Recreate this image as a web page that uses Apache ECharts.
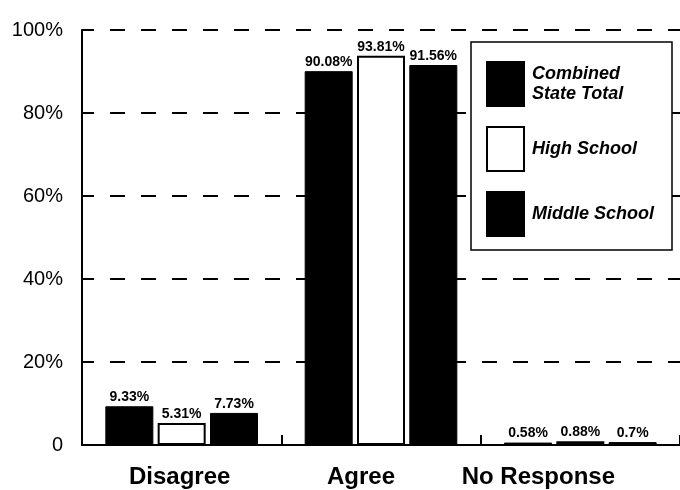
<!DOCTYPE html>
<html>
<head>
<meta charset="utf-8">
<script src="https://cdn.jsdelivr.net/npm/echarts@6/dist/echarts.min.js"></script>
<style>
  html, body { margin: 0; padding: 0; background: #fff; }
  #chart { width: 680px; height: 490px; }
</style>
</head>
<body>
<div id="chart"></div>
<script>
// Survey response shares by school level
var categories = ['Disagree', 'Agree', 'No Response'];
var combinedTotal = [9.33, 90.08, 0.58];
var highSchool = [5.31, 93.81, 0.88];
var middleSchool = [7.73, 91.56, 0.7];
var yTicks = [0, 20, 40, 60, 80, 100];

var FONT = '"Liberation Sans", Arial, Helvetica, sans-serif';

// Category captions sit a little left of their groups on the right side
var captionShift = [4, 40, 84];

var valueLabel = {
  show: true,
  position: 'top',
  distance: 2,
  color: '#000',
  fontFamily: FONT,
  fontWeight: 'bold',
  fontSize: 14,
  formatter: function (p) { return p.value + '%'; }
};

var chart = echarts.init(document.getElementById('chart'), null, { renderer: 'canvas' });
chart.setOption({
  backgroundColor: '#fff',
  animation: false,
  grid: { left: 82, right: 0, top: 30, bottom: 45, containLabel: false },
  legend: {
    orient: 'vertical',
    right: 8,
    top: 42,
    padding: [19, 18, 13, 15],
    itemWidth: 37,
    itemHeight: 44,
    itemGap: 19,
    backgroundColor: '#fff',
    borderColor: '#000',
    borderWidth: 1.5,
    borderRadius: 0,
    icon: 'rect',
    data: [
      { name: 'Combined\nState Total' },
      { name: 'High School' },
      { name: 'Middle School' }
    ],
    textStyle: {
      color: '#000',
      fontFamily: FONT,
      fontWeight: 'bold',
      fontStyle: 'italic',
      fontSize: 18,
      lineHeight: 20,
      padding: [0, 0, 0, 3]
    }
  },
  xAxis: {
    type: 'category',
    data: categories.map(function (c, i) {
      return { value: c, textStyle: { padding: [0, captionShift[i], 0, 0] } };
    }),
    boundaryGap: true,
    axisLine: { show: true, lineStyle: { color: '#000', width: 2 } },
    axisTick: { show: true, inside: true, length: 10, lineStyle: { color: '#000', width: 2 } },
    axisLabel: {
      interval: 0,
      hideOverlap: false,
      color: '#000',
      fontFamily: FONT,
      fontWeight: 'bold',
      fontSize: 24,
      margin: 20
    },
    splitLine: { show: false }
  },
  yAxis: {
    type: 'value',
    min: yTicks[0],
    max: yTicks[yTicks.length - 1],
    interval: 20,
    axisLine: { show: true, lineStyle: { color: '#000', width: 2 } },
    axisTick: { show: false },
    axisLabel: {
      color: '#000',
      fontFamily: FONT,
      fontSize: 20,
      margin: 19,
      formatter: function (v) { return v === 0 ? '0' : v + '%'; }
    },
    splitLine: {
      show: true,
      lineStyle: { color: '#000', width: 2, type: [15, 16], dashOffset: 3 }
    }
  },
  series: [
    {
      name: 'Combined\nState Total',
      type: 'bar',
      data: combinedTotal,
      barWidth: 48,
      barGap: '9%',
      itemStyle: { color: '#000', borderColor: '#000', borderWidth: 1 },
      label: valueLabel
    },
    {
      name: 'High School',
      type: 'bar',
      data: highSchool,
      barWidth: 48,
      barGap: '9%',
      itemStyle: { color: '#fff', borderColor: '#000', borderWidth: 2 },
      label: valueLabel
    },
    {
      name: 'Middle School',
      type: 'bar',
      data: middleSchool,
      barWidth: 48,
      barGap: '9%',
      itemStyle: { color: '#000', borderColor: '#000', borderWidth: 1 },
      label: valueLabel
    }
  ]
});
</script>
</body>
</html>
